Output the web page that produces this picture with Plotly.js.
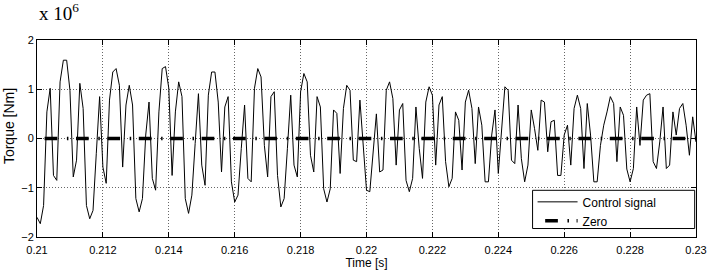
<!DOCTYPE html>
<html><head><meta charset="utf-8">
<script src="https://cdn.plot.ly/plotly-3.0.1.min.js"></script>
<style>html,body{margin:0;padding:0;background:#fff}#chart{width:708px;height:270px}</style>
</head><body><div id="chart"></div>
<script>
// Torque values in units of 1e6 Nm, sampled every 0.1 ms from t = 0.21 s
const startTime = 0.21;
const sampleStep = 0.0001;
const controlTorque = [
-1.60,-1.73,-1.36,0.54,1.02,-0.75,-0.85,1.15,1.59,1.59,
0.98,-0.78,-0.44,1.12,0.61,-1.36,-1.63,-1.46,-0.30,0.85,
-0.58,-0.91,0.78,1.35,1.42,1.08,-0.58,0.68,1.08,0.68,
-1.22,-1.49,-1.22,0.07,0.74,-0.81,-1.05,0.54,1.42,1.46,
1.02,-0.75,0.54,1.15,0.85,-1.22,-1.52,-1.15,-0.10,0.91,
-0.54,-0.95,0.88,1.35,1.35,0.74,-0.68,0.64,0.85,-0.88,
-1.29,-1.15,-0.20,0.68,-0.81,-0.88,1.02,1.42,1.25,-0.14,
-0.78,0.85,0.95,-0.75,-1.39,-1.22,-0.20,0.88,-0.54,-0.78,
0.95,1.32,1.15,-0.34,-0.68,0.85,0.64,-1.02,-1.29,-1.02,
0.58,0.51,-0.71,0.61,1.08,0.98,-0.44,-0.47,0.78,-0.14,
-1.05,-1.08,-0.30,0.50,-0.68,-0.64,0.98,1.15,0.81,-0.54,
0.58,0.71,-0.85,-1.08,-0.81,0.64,-0.20,-0.81,0.74,1.05,
0.88,-0.54,0.68,0.85,-0.47,-0.98,-0.81,0.54,0.37,-0.64,
0.74,0.98,0.61,-0.51,0.64,0.27,-0.88,-0.88,0.07,0.58,
-0.71,0.27,1.05,0.98,-0.44,-0.51,0.68,-0.41,-0.88,-0.54,
0.58,0.20,-0.24,0.78,0.74,-0.27,0.34,0.37,-0.75,-0.75,
0.07,0.27,-0.54,0.61,0.88,0.61,-0.61,0.71,0.07,-0.88,
-0.88,-0.14,0.27,0.54,0.85,0.71,-0.47,0.64,0.47,-0.62,
-0.88,-0.61,0.64,-0.14,0.78,0.88,0.91,-0.47,-0.61,-0.07,
0.64,-0.61,-0.54,0.54,0.07,0.61,0.71,0.27,-0.34,0.44,
-0.07
];
const controlTime = controlTorque.map((_, i) => +(startTime + i * sampleStep).toFixed(4));
const zeroTime = [0.21, 0.23];
const zeroTorque = [0, 0];
const xTickVals = [0.21,0.212,0.214,0.216,0.218,0.22,0.222,0.224,0.226,0.228,0.23];
const xTickText = ['0.21','0.212','0.214','0.216','0.218','0.22','0.222','0.224','0.226','0.228','0.23'];
const yTickVals = [-2,-1,0,1,2];
const yTickText = ['\u22122','\u22121','0','1','2'];
const seriesNames = ['Control signal','Zero'];

const sans = 'Arial, Liberation Sans, sans-serif';
const font = {family:sans, size:11, color:'#000'};
const axisCommon = {
  showline:true, linecolor:'#000', linewidth:1, mirror:'ticks',
  ticks:'inside', ticklen:5, tickcolor:'#000', tickwidth:1,
  showgrid:true, gridcolor:'#666', griddash:'1px,2px', gridwidth:1,
  zeroline:false, automargin:false, tickfont:font
};

const traces = [
  {x:controlTime, y:controlTorque, type:'scatter', mode:'lines', name:seriesNames[0],
   line:{color:'#000', width:1}},
  {x:zeroTime, y:zeroTorque, type:'scatter', mode:'lines', name:seriesNames[1],
   line:{color:'#000', width:3.5, dash:'0px,7.6px,12.7px,9.6px,1.5px,0px'}}
];

const layout = {
  width:708, height:270,
  margin:{l:37, r:12, t:40, b:33},
  paper_bgcolor:'#fff', plot_bgcolor:'#fff',
  font:font,
  showlegend:true,
  legend:{x:0.752, y:0.252, xanchor:'left', yanchor:'top', bgcolor:'rgba(0,0,0,0)',
          borderwidth:0, itemwidth:40, font:{family:sans, size:12, color:'#000'},
          tracegroupgap:0},
  xaxis:Object.assign({}, axisCommon, {range:[0.21,0.23], tickvals:xTickVals, ticktext:xTickText,
          ticklabelstandoff:3,
          title:{text:'Time [s]', font:{family:sans, size:12, color:'#000'}, standoff:2}}),
  yaxis:Object.assign({}, axisCommon, {range:[-2,2], tickvals:yTickVals, ticktext:yTickText}),
  shapes:[{type:'rect', xref:'paper', yref:'paper', x0:0.752, x1:0.998, y0:0.043, y1:0.237,
           fillcolor:'#fff', line:{color:'#000', width:1}, layer:'above'}],
  annotations:[
    {xref:'paper', yref:'paper', x:0, y:1.14, xanchor:'left', yanchor:'middle',
     showarrow:false, text:'x 10<sup>6</sup>',
     font:{family:'Liberation Serif, Times New Roman, serif', size:19, color:'#000'}},
    {xref:'paper', yref:'paper', x:-0.0425, y:0.563, xanchor:'center', yanchor:'middle',
     textangle:-90, showarrow:false, text:'Torque [Nm]',
     font:{family:sans, size:14, color:'#000'}}
  ]
};

Plotly.newPlot('chart', traces, layout, {displayModeBar:false, staticPlot:true});
</script>
</body></html>
